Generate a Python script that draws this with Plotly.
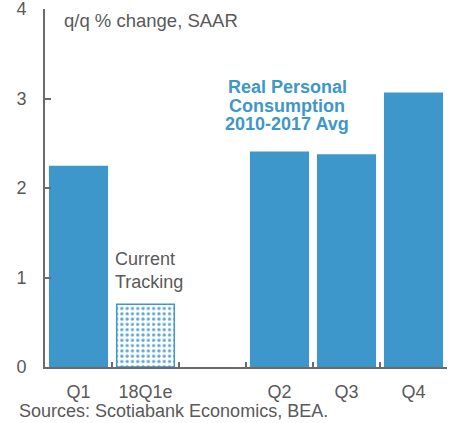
import plotly.graph_objects as go

categories = ["Q1", "18Q1e", " ", "Q2", "Q3", "Q4"]
values = [2.24, 0.70, None, 2.40, 2.37, 3.06]
patterns = ["", ".", "", "", "", ""]
y_ticks = [0, 1, 2, 3, 4]

BLUE = "#3d97ca"
GRAY = "#595959"
AXIS = "#6b6b6b"
FONT = "Liberation Sans, Arial, sans-serif"

fig = go.Figure()
fig.add_trace(go.Bar(
    x=categories, y=values,
    marker=dict(
        color=BLUE,
        line=dict(color=BLUE, width=1.5),
        pattern=dict(shape=patterns, fgcolor=BLUE, bgcolor="white",
                     size=5.3, solidity=0.3, fillmode="replace", fgopacity=0.85),
    ),
    width=0.86,
    showlegend=False,
    hoverinfo="x+y",
))

fig.update_layout(
    width=454, height=423,
    margin=dict(l=45, r=7, t=9, b=56, autoexpand=False),
    paper_bgcolor="white", plot_bgcolor="white",
    font=dict(family=FONT, color=GRAY, size=18),
    xaxis=dict(
        type="category", categoryorder="array", categoryarray=categories,
        showline=True, linecolor=AXIS, linewidth=2,
        ticks="inside", tickson="boundaries", ticklen=5, tickcolor=AXIS, tickwidth=1.5,
        showgrid=False, zeroline=False, automargin=False,
        tickfont=dict(size=18, color=GRAY),
        ticklabelstandoff=7,
        fixedrange=True,
    ),
    yaxis=dict(
        range=[0, 4], tickvals=y_ticks,
        showline=True, linecolor=AXIS, linewidth=2,
        ticks="inside", ticklen=6, tickcolor=AXIS, tickwidth=1.5,
        showgrid=False, zeroline=False, automargin=False,
        tickfont=dict(size=18, color=GRAY),
        ticklabelstandoff=13, ticklabeloverflow="allow",
        fixedrange=True,
    ),
    annotations=[
        dict(text="q/q % change, SAAR", xref="paper", yref="paper",
             x=0.042, y=0.967, xanchor="left", yanchor="middle", showarrow=False,
             font=dict(size=18.5, color=GRAY)),
        dict(text="Current", xref="paper", yref="y",
             x=0.17, y=1.21, xanchor="left", yanchor="middle", showarrow=False,
             font=dict(size=18, color=GRAY)),
        dict(text="Tracking", xref="paper", yref="y",
             x=0.17, y=0.95, xanchor="left", yanchor="middle", showarrow=False,
             font=dict(size=18, color=GRAY)),
        dict(text="<b>Real Personal</b>", xref="paper", yref="y",
             x=0.602, y=3.13, xanchor="center", yanchor="middle", showarrow=False,
             font=dict(size=18, color=BLUE)),
        dict(text="<b>Consumption</b>", xref="paper", yref="y",
             x=0.602, y=2.92, xanchor="center", yanchor="middle", showarrow=False,
             font=dict(size=18, color=BLUE)),
        dict(text="<b>2010-2017 Avg</b>", xref="paper", yref="y",
             x=0.602, y=2.71, xanchor="center", yanchor="middle", showarrow=False,
             font=dict(size=18, color=BLUE)),
        dict(text="Sources: Scotiabank Economics, BEA.", xref="paper", yref="paper",
             x=-0.0697, y=-0.122, xanchor="left", yanchor="middle", showarrow=False,
             font=dict(size=18, color=GRAY)),
    ],
)

fig.write_html(
    "out.html",
    config={"displayModeBar": False},
    post_script="document.body.style.margin='0';document.body.style.overflow='hidden';",
)
